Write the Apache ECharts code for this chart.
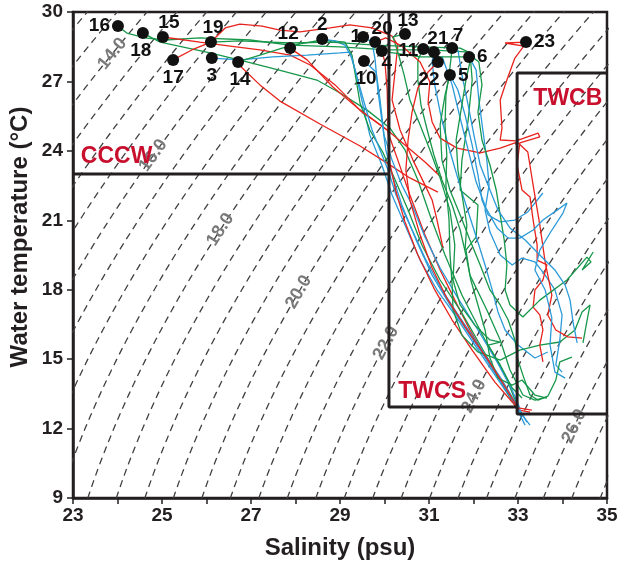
<!DOCTYPE html>
<html>
<head>
<meta charset="utf-8">
<script src="https://cdn.jsdelivr.net/npm/echarts@6/dist/echarts.min.js"></script>
<style>
html,body{margin:0;padding:0;background:#fff}
#main{width:617px;height:562px}
</style>
</head>
<body>
<div id="main"></div>
<script>
// sigma-t levels of the dashed isopycnals
var isoLevels = [12.5,13,13.5,14,14.5,15,15.5,16,16.5,17,17.5,18,18.5,19,19.5,20,20.5,21,21.5,22,22.5,23,23.5,24,24.5,25,25.5,26,26.5,27,27.5,28];
// labelled isopycnals and the temperature where the label sits
var isoLabelVal = [14, 16, 18, 20, 22, 24, 26];
var isoLabelT = [28.2, 23.8, 20.6, 17.9, 15.7, 13.4, 12.1];

// stations (surface points)
var stName = ['16','18','15','19','17','3','14','12','2','1','20','4','10','13','11','21','7','22','5','6','23'];
var stSal = [24.01,24.57,25.02,26.10,25.25,26.12,26.71,27.88,28.60,29.52,29.79,29.94,29.54,30.46,30.87,31.11,31.52,31.20,31.47,31.90,33.18];
var stTem = [29.39,29.09,28.92,28.70,27.93,28.01,27.84,28.44,28.83,28.92,28.70,28.31,27.88,29.05,28.40,28.27,28.44,27.84,27.28,28.06,28.70];

// water mass boundaries
var cccwLine = [[23,23.0],[30.10,23.0]];
var twcsLine = [[30.10,30],[30.10,12.93],[32.98,12.93]];
var twcbLine = [[35,27.36],[32.98,27.36],[32.98,12.63],[35,12.63]];
var regionName = ['CCCW','TWCS','TWCB'];
var regionSal = [23.98, 31.07, 34.12];
var regionTem = [23.73, 13.58, 26.24];

// T-S profiles [salinity, temperature]
var pr16 = [[24.01,29.39],[24.21,29.09],[24.62,28.88],[25.07,28.79],[25.85,28.88],[26.98,28.79],[27.88,28.57],[29.00,28.49],[30.06,28.36],[31.02,28.36],[31.92,28.27],[31.97,27.06],[31.88,25.33],[31.74,23.60],[31.70,22.31],[32.10,21.66],[32.06,20.28],[31.83,19.71],[31.92,18.63],[32.30,17.12],[32.60,15.83],[32.82,14.53],[33.11,13.45],[33.38,13.23],[33.65,13.36]];
var pr18 = [[24.57,29.09],[24.96,28.70],[26.08,28.23],[26.91,27.84],[27.72,27.45],[28.48,27.06],[29.00,26.50],[29.61,25.76],[30.12,24.99],[30.46,24.04],[30.75,22.74],[31.02,21.23],[31.36,19.50],[31.74,17.77],[32.26,15.83],[32.71,14.31],[32.98,13.02]];
var pr15 = [[25.02,28.92],[25.85,28.70],[26.53,28.53],[27.20,28.36],[27.88,28.14],[28.33,27.71],[28.89,26.85],[29.45,25.76],[30.06,24.90],[30.30,23.60],[30.57,22.09],[30.91,20.36],[31.25,18.85],[31.58,17.55],[31.92,16.26],[32.37,14.75],[32.82,13.45],[33.02,12.80],[33.27,12.71]];
var pr17 = [[25.25,27.93],[25.67,28.36],[26.10,28.70],[26.42,29.31],[26.75,29.48],[27.25,29.39],[27.65,29.22],[28.10,29.14],[28.78,29.31],[29.22,29.44],[29.72,29.31],[30.17,28.96],[30.30,28.57],[30.24,27.49],[30.17,26.20],[30.35,24.90],[30.64,23.60],[30.91,22.52],[31.07,21.88],[31.18,21.01],[31.31,19.84]];
var pr3 = [[26.12,28.01],[26.75,27.93],[27.49,28.06],[28.26,28.14],[29.00,28.23],[29.22,28.27],[29.34,27.49],[29.49,26.20],[29.67,24.68],[29.94,23.39],[30.17,22.09],[30.46,20.80],[30.80,19.28],[31.18,17.99],[31.58,16.91],[32.03,15.61],[32.53,14.18],[32.93,13.02],[33.16,12.15]];
var pr14a = [[26.71,27.84],[27.20,28.14],[27.70,28.44],[28.10,28.62],[28.60,28.79],[29.11,28.70],[29.27,28.14],[29.45,26.07],[29.67,24.90],[29.97,23.91],[30.24,22.74],[30.53,21.44],[30.84,19.93],[31.25,18.42],[31.70,17.12],[32.15,15.61],[32.60,14.10],[32.96,12.89]];
var pr14b = [[26.71,27.75],[27.20,26.85],[27.65,26.15],[28.55,25.16],[29.45,24.21],[30.06,23.47],[30.57,22.83],[31.20,22.22]];
var pr12 = [[27.88,28.44],[28.26,27.93],[28.84,26.76],[29.45,25.76],[30.06,24.90],[30.46,24.25],[30.91,23.52],[31.29,22.83]];
var pr2 = [[28.60,28.83],[28.89,28.75],[29.11,28.57],[29.27,28.01],[29.40,27.06],[29.56,25.98],[29.72,24.90],[29.90,24.04],[30.08,23.17],[30.26,22.09],[30.57,20.80],[30.91,19.37],[31.29,17.99],[31.70,16.78],[32.19,15.39],[32.64,14.10],[32.98,13.02],[33.20,12.28]];
var pr1 = [[29.52,28.92],[29.72,28.70],[29.79,27.93],[29.85,26.63],[29.94,25.33],[30.03,24.04],[30.17,22.96],[30.39,21.66],[30.71,20.15],[31.07,18.63],[31.47,17.34],[31.92,16.04],[32.37,14.75],[32.78,13.53],[33.04,12.71],[33.27,12.15]];
var pr4 = [[29.94,28.31],[30.01,27.84],[30.06,26.63],[30.08,24.90],[30.12,23.47],[30.26,22.22],[30.46,20.93],[30.75,19.50],[31.13,17.99],[31.52,16.69],[31.97,15.39],[32.48,14.01],[32.87,13.15],[33.02,12.80]];
var pr10 = [[29.54,27.88],[29.81,27.41],[29.90,26.20],[29.99,24.68],[30.17,23.60],[30.39,22.52],[30.62,21.66],[30.89,20.36],[31.25,18.94],[31.65,17.64],[32.10,16.26],[32.53,14.88],[32.87,13.66],[33.04,12.89]];
var pr19 = [[26.10,28.70],[26.75,28.75],[27.88,28.66],[28.78,28.70],[29.79,28.57],[30.80,28.49],[31.70,28.44],[32.03,28.14]];
var pr13 = [[30.46,29.05],[30.19,28.92],[30.30,28.27],[30.44,27.28],[30.57,26.20],[30.80,25.12],[31.02,24.04],[31.25,22.83],[31.47,21.44],[31.58,19.93],[31.54,18.42],[31.70,17.34],[32.03,16.47],[32.37,15.83],[32.60,15.74],[32.33,15.61],[32.60,14.75],[32.87,13.75],[33.09,13.32]];
var pr11 = [[30.87,28.40],[30.75,27.93],[30.75,27.06],[30.82,25.98],[30.96,24.90],[31.11,23.82],[31.29,22.74],[31.52,21.66],[31.70,20.58],[31.83,19.50],[31.94,18.42],[32.10,17.34],[32.26,16.26],[32.37,15.05],[32.55,14.18],[32.87,13.88],[33.09,14.10],[33.38,13.45],[33.65,13.32]];
var pr21a = [[31.11,28.27],[31.07,27.84],[31.13,26.85],[31.25,25.68],[31.40,24.47],[31.58,23.26],[31.76,22.09],[31.94,21.01],[32.12,19.93],[32.28,18.94],[32.42,17.99],[32.55,17.04],[32.71,16.26],[33.00,15.61],[33.38,15.05],[33.67,15.31]];
var pr7a = [[31.52,28.44],[31.47,27.58],[31.38,26.41],[31.36,25.12],[31.40,23.82],[31.38,22.52],[31.45,21.01],[31.47,19.59],[31.52,18.20],[31.54,17.12],[31.74,16.04],[32.10,15.31],[32.60,14.96],[33.04,15.39],[33.49,15.61],[33.94,15.74],[34.28,16.26],[34.44,17.04],[34.62,17.34],[34.57,16.86],[34.46,15.70]];
var pr22 = [[31.20,27.84],[30.98,27.41],[30.75,26.72],[30.62,25.68],[30.53,24.47],[30.48,23.17],[30.57,21.88],[30.80,20.36],[31.07,18.94],[31.40,17.64],[31.83,16.34],[32.33,14.96],[32.73,13.75],[33.00,12.89],[33.31,12.80]];
var pr5a = [[31.47,27.28],[31.65,26.63],[31.81,25.55],[31.97,24.25],[32.10,22.96],[32.19,21.88],[32.33,21.23],[32.60,20.93],[32.93,21.01],[33.22,21.36],[33.56,22.18]];
var pr6a = [[31.90,28.06],[32.06,27.49],[32.12,26.20],[32.21,24.90],[32.30,23.60],[32.35,22.52],[32.26,21.44],[32.37,20.49],[32.60,19.50],[32.87,19.07],[33.09,19.37],[33.38,19.20],[33.61,18.63],[33.83,17.99],[33.99,16.91],[33.94,15.83],[33.85,14.75],[33.99,14.44]];
var pr23 = [[33.18,28.70],[32.71,28.66],[33.13,28.53],[32.93,28.01],[32.75,27.06],[32.60,26.20],[32.64,24.99],[32.60,24.47],[32.96,24.43],[33.45,24.77],[33.49,24.60],[33.04,24.34],[32.98,23.39],[33.09,22.31],[33.27,22.01],[33.34,21.01],[33.43,19.93],[33.43,19.28],[33.65,19.07],[33.56,18.42],[33.38,17.99],[33.34,17.25],[33.49,16.91],[33.56,16.26],[33.49,15.61],[33.56,14.88]];
var pr20a = [[29.79,28.70],[30.03,28.88],[30.39,28.53],[30.80,27.84],[31.02,26.98],[30.98,26.11],[31.07,25.25],[31.25,24.55],[31.63,24.12],[32.15,23.91],[32.60,24.12],[32.98,24.38],[33.22,23.95],[33.34,22.52],[33.49,20.80],[33.61,19.20],[33.76,17.77],[33.67,16.91],[33.85,16.26],[34.12,15.96],[34.44,15.91]];
var pr6b = [[31.92,28.14],[32.12,27.84],[32.19,26.85],[32.10,25.68],[32.19,24.47],[32.37,23.39],[32.51,22.31],[32.60,21.23],[32.69,20.15],[32.75,19.07],[32.71,17.99],[32.82,17.34],[33.11,16.82],[33.49,17.55],[34.10,18.42],[34.55,19.41],[34.64,19.20],[34.44,18.85],[34.69,19.63]];
var pr5b = [[31.47,27.28],[31.36,26.41],[31.25,25.12],[31.29,23.60],[31.47,22.31],[31.70,21.23],[31.92,20.15],[32.15,19.07],[32.37,17.99],[32.60,17.34],[32.78,16.69],[32.93,15.83],[33.00,14.96],[33.11,14.31],[33.27,13.45],[33.45,13.23],[33.67,13.40],[33.85,14.10],[33.94,14.88],[34.21,15.09]];
var pr21b = [[31.29,28.10],[31.52,26.85],[31.70,25.42],[31.88,24.04],[32.06,22.65],[32.28,21.53],[32.53,20.67],[32.78,20.23],[33.04,20.23],[33.34,20.58],[33.56,21.01],[33.88,21.44],[34.10,21.75],[34.01,21.31],[33.72,20.45],[33.49,19.71],[33.38,18.85],[33.61,17.99],[33.76,16.78],[33.72,15.61],[33.83,14.44],[34.06,14.18]];
var pr7b = [[31.65,28.36],[31.74,27.28],[31.88,25.98],[32.01,24.68],[32.15,23.39],[32.37,22.31],[32.55,21.44],[32.82,20.67],[33.16,20.15],[33.49,19.50],[33.83,18.85],[34.06,18.20],[34.17,17.55],[34.24,16.56],[34.33,15.70]];
var pr20b = [[29.79,28.62],[30.08,28.27],[30.80,28.06],[31.81,28.06],[31.92,27.84],[31.83,27.06],[31.72,25.76],[31.61,24.47],[31.65,23.17],[31.76,21.88],[31.85,20.80],[31.81,19.71]];

var profiles = [pr16,pr18,pr15,pr17,pr3,pr14a,pr14b,pr12,pr2,pr1,pr4,pr10,pr19,pr13,pr11,pr21a,pr7a,pr22,pr5a,pr6a,pr23,pr20a,pr6b,pr5b,pr21b,pr7b,pr20b];
var profKind = ['g','g','r','r','b','g','r','r','b','b','r','b','g','g','g','b','g','r','b','b','r','r','g','g','b','b','g'];
var kindColor = {r:'#e8231d', g:'#17974a', b:'#2a9ad8'};

// label placement of the station numbers: [position, dx, dy]
var stLabelPos = {
  '16':['left',0,0],'18':['bottom',-2,0],'15':['top',6,3],'19':['top',2,3],'17':['bottom',0,0],
  '3':['bottom',0,0],'14':['bottom',2,0],'12':['top',-2,3],'2':['top',0,3],'1':['left',6,0],
  '20':['top',7,4],'4':['bottom',5,-5],'10':['bottom',2,0],'13':['top',3,4],'11':['left',3,2],
  '21':['top',4,4],'7':['top',6,5],'22':['bottom',-9,0],'5':['right',0,1],'6':['right',0,0],'23':['right',0,0]
};

// UNESCO (1981) density of sea water at surface pressure, sigma-t
function sigmaT(S, T) {
  var rw = 999.842594 + 6.793952e-2*T - 9.095290e-3*T*T + 1.001685e-4*T*T*T
         - 1.120083e-6*T*T*T*T + 6.536332e-9*T*T*T*T*T;
  var A = 8.24493e-1 - 4.0899e-3*T + 7.6438e-5*T*T - 8.2467e-7*T*T*T + 5.3875e-9*T*T*T*T;
  var B = -5.72466e-3 + 1.0227e-4*T - 1.6546e-6*T*T;
  var C = 4.8314e-4;
  return rw + A*S + B*Math.pow(S,1.5) + C*S*S - 1000;
}
function salAt(sig, T) {
  var lo = 0, hi = 50;
  for (var i = 0; i < 60; i++) {
    var m = (lo+hi)/2;
    if (sigmaT(m,T) < sig) lo = m; else hi = m;
  }
  return (lo+hi)/2;
}

var font = 'Liberation Sans, Arial, sans-serif';
var ink = '#231f20';
var series = [];

isoLevels.forEach(function (s) {
  var pts = [];
  for (var T = 8; T <= 31.01; T += 0.25) pts.push([salAt(s,T), T]);
  series.push({
    type:'line', data:pts, showSymbol:false, silent:true, z:1, clip:true,
    lineStyle:{color:'#404040', width:1.3, type:[7,5]}
  });
});

var isoLabelData = isoLabelVal.map(function (v, i) {
  return {value:[salAt(v, isoLabelT[i]), isoLabelT[i]], name:v.toFixed(1)};
});
series.push({
  id:'isoLabels', type:'scatter', data:isoLabelData, symbolSize:0, silent:true, z:2,
  itemStyle:{opacity:1},
  label:{show:true, position:'inside', formatter:'{b}', color:'#7a7a7a', opacity:1,
         fontSize:18, fontWeight:'bold', fontFamily:font}
});

profiles.forEach(function (p, i) {
  series.push({
    type:'line', data:p, showSymbol:false, silent:true, z:3, clip:true,
    lineStyle:{color:kindColor[profKind[i]], width:1.3}
  });
});

[cccwLine, twcsLine, twcbLine].forEach(function (l) {
  series.push({
    type:'line', data:l, showSymbol:false, silent:true, z:4, clip:false,
    lineStyle:{color:ink, width:3}
  });
});

series.push({
  type:'scatter', symbolSize:0, silent:true, z:5,
  itemStyle:{opacity:1},
  data:regionName.map(function (n, i) { return {value:[regionSal[i], regionTem[i]], name:n}; }),
  label:{show:true, position:'inside', formatter:'{b}', color:'#c8102e', opacity:1,
         fontSize:23, fontWeight:'bold', fontFamily:font}
});

series.push({
  type:'scatter', symbolSize:12, silent:true, z:6,
  itemStyle:{color:'#111', opacity:1},
  data:stName.map(function (n, i) {
    var lp = stLabelPos[n];
    return {value:[stSal[i], stTem[i]], name:n,
            label:{position:lp[0], offset:[lp[1], lp[2]]}};
  }),
  label:{show:true, formatter:'{b}', color:'#111', opacity:1, distance:2,
         fontSize:19, fontWeight:'bold', fontFamily:font}
});

var chart = echarts.init(document.getElementById('main'));
var option = {
  animation:false,
  backgroundColor:'#fff',
  grid:{left:73, right:10, top:12, bottom:64, outerBoundsMode:'none', containLabel:false,
        show:true, borderColor:ink, borderWidth:2.5},
  graphic:[{
    type:'text', x:20, y:237, rotation:Math.PI/2, silent:true,
    style:{text:'Water temperature (°C)', align:'center', verticalAlign:'middle',
           fill:ink, font:'bold 24px ' + font}
  }],
  xAxis:{
    type:'value', min:23, max:35, interval:1,
    name:'Salinity (psu)', nameLocation:'middle', nameGap:38,
    nameTextStyle:{fontSize:24, fontWeight:'bold', color:ink, fontFamily:font},
    axisLine:{lineStyle:{color:ink, width:2.5}},
    axisTick:{length:6, lineStyle:{color:ink, width:1.5}},
    axisLabel:{color:ink, fontSize:19, fontWeight:'bold', fontFamily:font, margin:8,
      formatter:function (v) { return (v - 23) % 2 === 0 ? String(v) : ''; }},
    splitLine:{show:false}
  },
  yAxis:{
    type:'value', min:9, max:30, interval:3,
    axisLine:{lineStyle:{color:ink, width:2.5}},
    axisTick:{length:6, lineStyle:{color:ink, width:1.5}},
    axisLabel:{color:ink, fontSize:19, fontWeight:'bold', fontFamily:font, margin:10},
    splitLine:{show:false}
  },
  series:series
};
chart.setOption(option);

// rotate the isopycnal labels along their lines
var rotated = isoLabelVal.map(function (v, i) {
  var t = isoLabelT[i];
  var a = chart.convertToPixel({gridIndex:0}, [salAt(v, t-0.5), t-0.5]);
  var b = chart.convertToPixel({gridIndex:0}, [salAt(v, t+0.5), t+0.5]);
  var ang = Math.atan2(a[1]-b[1], b[0]-a[0]) * 180 / Math.PI;
  return {value:isoLabelData[i].value, name:isoLabelData[i].name, label:{rotate:ang}};
});
chart.setOption({series:[{id:'isoLabels', data:rotated}]});
</script>
</body>
</html>
